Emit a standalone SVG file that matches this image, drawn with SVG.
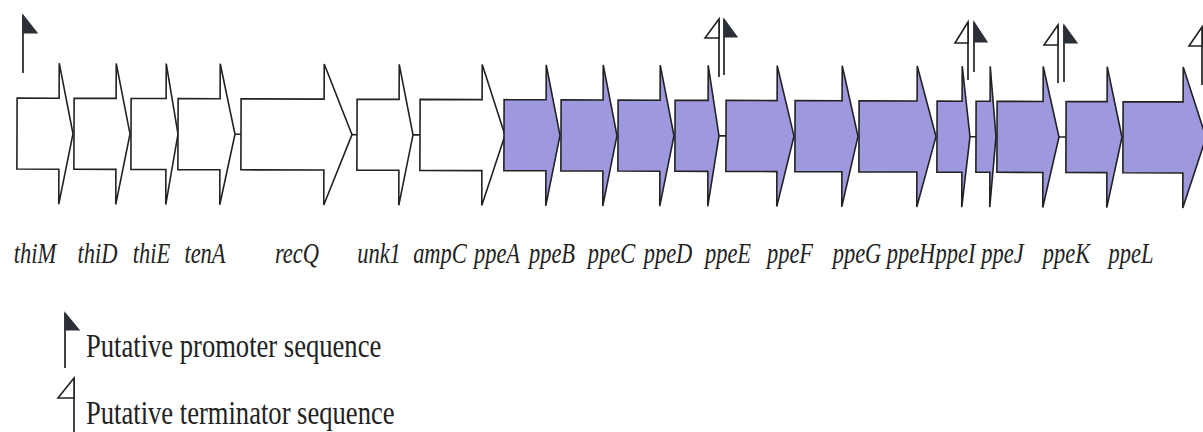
<svg xmlns="http://www.w3.org/2000/svg" width="1203" height="432" viewBox="0 0 1203 432">
<style>
.gw{fill:#ffffff;stroke:#222;stroke-width:1.6;stroke-linejoin:miter}
.gp{fill:#9e99df;stroke:#222;stroke-width:1.6;stroke-linejoin:miter}
.lk{stroke:#222;stroke-width:1.6;fill:none}
.pole{stroke:#444;stroke-width:2;fill:none}
.pf{fill:#2b3036;stroke:#2b3036;stroke-width:1.2;stroke-linejoin:miter}
.tf{fill:#ffffff;stroke:#222;stroke-width:1.6;stroke-linejoin:miter}
.lab{font-family:"Liberation Serif","Times New Roman",serif;font-style:italic;font-size:22.5px;fill:#222;text-anchor:middle}
.leg{font-family:"Liberation Serif","Times New Roman",serif;font-size:26.6px;fill:#222}
</style>
<rect width="1203" height="432" fill="#ffffff"/>
<g transform="rotate(0.19 0 133.5)">
<g id="connectors">
<line class="lk" x1="235" y1="133.5" x2="241" y2="133.5"/>
<line class="lk" x1="352" y1="133.5" x2="357" y2="133.5"/>
<line class="lk" x1="413" y1="133.5" x2="420" y2="133.5"/>
<line class="lk" x1="719" y1="133.5" x2="726" y2="133.5"/>
<line class="lk" x1="970" y1="133.5" x2="976" y2="133.5"/>
<line class="lk" x1="1059" y1="133.5" x2="1066" y2="133.5"/>
</g>
<g id="thiM"><polygon class="gw" points="17,98 59,98 59,63 73,133.5 59,204 59,169 17,169"/></g>
<g id="thiD"><polygon class="gw" points="74,98 116,98 116,63 130,133.5 116,204 116,169 74,169"/></g>
<g id="thiE"><polygon class="gw" points="131,98 166,98 166,63 178,133.5 166,204 166,169 131,169"/></g>
<g id="tenA"><polygon class="gw" points="178,98 220,98 220,63 235,133.5 220,204 220,169 178,169"/></g>
<g id="recQ"><polygon class="gw" points="241,98 324,98 324,63 352,133.5 324,204 324,169 241,169"/></g>
<g id="unk1"><polygon class="gw" points="357,98 399,98 399,63 413,133.5 399,204 399,169 357,169"/></g>
<g id="ampC"><polygon class="gw" points="420,98 482,98 482,63 505,133.5 482,204 482,169 420,169"/></g>
<g id="ppeA"><polygon class="gp" points="504,98 546,98 546,63 560,133.5 546,204 546,169 504,169"/></g>
<g id="ppeB"><polygon class="gp" points="561,98 603,98 603,63 617,133.5 603,204 603,169 561,169"/></g>
<g id="ppeC"><polygon class="gp" points="618,98 660,98 660,63 674,133.5 660,204 660,169 618,169"/></g>
<g id="ppeD"><polygon class="gp" points="675,98 708,98 708,63 719,133.5 708,204 708,169 675,169"/></g>
<g id="ppeE"><polygon class="gp" points="726,98 777,98 777,63 794,133.5 777,204 777,169 726,169"/></g>
<g id="ppeF"><polygon class="gp" points="795,98 842,98 842,63 858,133.5 842,204 842,169 795,169"/></g>
<g id="ppeG"><polygon class="gp" points="859,98 917,98 917,63 936,133.5 917,204 917,169 859,169"/></g>
<g id="ppeH"><polygon class="gp" points="937,98 962,98 962,63 970,133.5 962,204 962,169 937,169"/></g>
<g id="ppeI"><polygon class="gp" points="976,98 990,98 990,63 996,133.5 990,204 990,169 976,169"/></g>
<g id="ppeJ"><polygon class="gp" points="997,98 1043,98 1043,63 1059,133.5 1043,204 1043,169 997,169"/></g>
<g id="ppeK"><polygon class="gp" points="1066,98 1107,98 1107,63 1122,133.5 1107,204 1107,169 1066,169"/></g>
<g id="ppeL"><polygon class="gp" points="1123,98 1183,98 1183,63 1206,133.5 1183,204 1183,169 1123,169"/></g>
</g>
<g id="promoter-thiM">
<line class="pole" x1="23" y1="15" x2="23" y2="73"/>
<polygon class="pf" points="23,15 37,33 23,33"/>
</g>
<g id="signals-ppeD">
<line class="pole" x1="719" y1="19" x2="719" y2="77"/>
<polygon class="tf" points="719,19 705,38 719,38"/>
<line class="pole" x1="724" y1="19" x2="724" y2="75"/>
<polygon class="pf" points="724,19 737,37 724,37"/>
</g>
<g id="signals-ppeH">
<line class="pole" x1="968" y1="22" x2="968" y2="80"/>
<polygon class="tf" points="968,22 955,43 968,43"/>
<line class="pole" x1="974" y1="22" x2="974" y2="72"/>
<polygon class="pf" points="974,22 987,42 974,42"/>
</g>
<g id="signals-ppeJ">
<line class="pole" x1="1058" y1="25" x2="1058" y2="83"/>
<polygon class="tf" points="1058,25 1044,45 1058,45"/>
<line class="pole" x1="1064" y1="25" x2="1064" y2="82"/>
<polygon class="pf" points="1064,25 1077,43 1064,43"/>
</g>
<g id="terminator-ppeL">
<line class="pole" x1="1202" y1="27" x2="1202" y2="85"/>
<polygon class="tf" points="1202,27 1189,46 1202,46"/>
</g>
<g id="labels">
<text class="lab" transform="translate(35,263) scale(1,1.35)">thiM</text>
<text class="lab" transform="translate(97.5,263) scale(1,1.35)">thiD</text>
<text class="lab" transform="translate(151.5,263) scale(1,1.35)">thiE</text>
<text class="lab" transform="translate(205,263) scale(1,1.35)">tenA</text>
<text class="lab" transform="translate(297,263) scale(1,1.35)">recQ</text>
<text class="lab" transform="translate(379,263) scale(1,1.35)">unk1</text>
<text class="lab" transform="translate(440,263) scale(1,1.35)">ampC</text>
<text class="lab" transform="translate(497,263) scale(1,1.35)">ppeA</text>
<text class="lab" transform="translate(552,263) scale(1,1.35)">ppeB</text>
<text class="lab" transform="translate(611.5,263) scale(1,1.35)">ppeC</text>
<text class="lab" transform="translate(668,263) scale(1,1.35)">ppeD</text>
<text class="lab" transform="translate(728,263) scale(1,1.35)">ppeE</text>
<text class="lab" transform="translate(790,263) scale(1,1.35)">ppeF</text>
<text class="lab" transform="translate(857,263) scale(1,1.35)">ppeG</text>
<text class="lab" transform="translate(911,263) scale(1,1.35)">ppeH</text>
<text class="lab" transform="translate(955.5,263) scale(1,1.35)">ppeI</text>
<text class="lab" transform="translate(1002.5,263) scale(1,1.35)">ppeJ</text>
<text class="lab" transform="translate(1066.5,263) scale(1,1.35)">ppeK</text>
<text class="lab" transform="translate(1131,263) scale(1,1.35)">ppeL</text>
</g>
<g id="legend-promoter">
<line class="pole" x1="65" y1="313" x2="65" y2="368"/>
<polygon class="pf" points="65,313 79,330 65,330"/>
<text class="leg" transform="translate(86,357) scale(1,1.3)">Putative promoter sequence</text>
</g>
<g id="legend-terminator">
<line class="pole" x1="74" y1="378" x2="74" y2="432"/>
<polygon class="tf" points="74,378 58,398 74,398"/>
<text class="leg" transform="translate(86,424) scale(1,1.3)">Putative terminator sequence</text>
</g>
</svg>
